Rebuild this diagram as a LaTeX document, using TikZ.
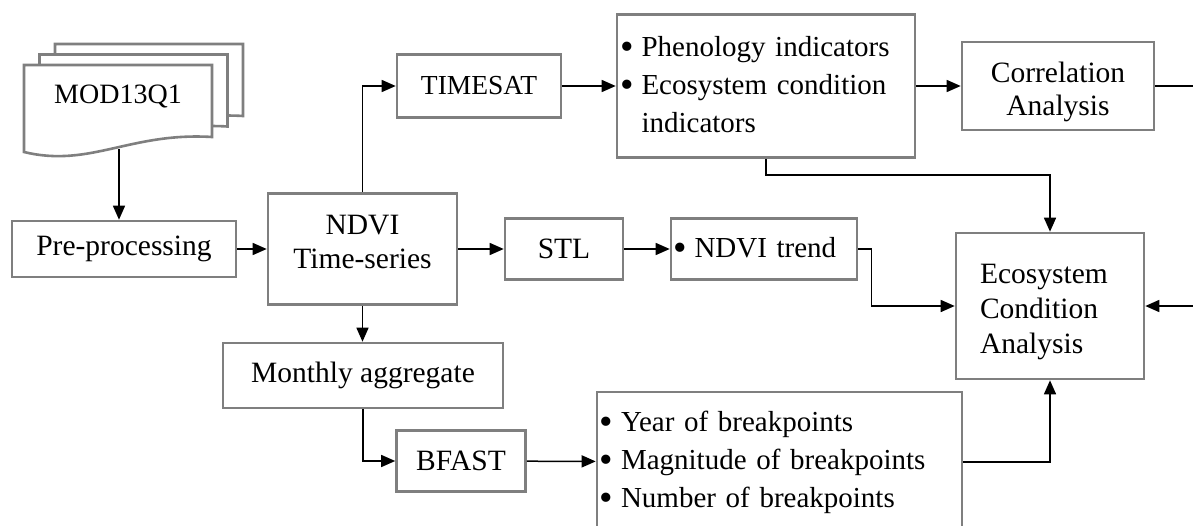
\documentclass[tikz,border=0pt]{standalone}
\usepackage{fontspec}
\setmainfont{Liberation Serif}
\usetikzlibrary{arrows.meta, positioning, calc}
\definecolor{boxgray}{HTML}{7F7F7F}
\newcommand{\itembul}{\raisebox{-3pt}{\scalebox{1.33}{\textbullet}}\hspace{8pt}}

\begin{document}
\begin{tikzpicture}[x=1pt, y=-1pt,
    box/.style={draw=boxgray, line width=2.6pt, fill=white, inner sep=0pt, font=\fontsize{29.5}{34}\selectfont, align=center},
    listbox/.style={box, font=\fontsize{29}{38}\selectfont, align=left},
    arrow/.style={-{Triangle[length=14pt, width=12pt]}, line width=1.5pt},
    link/.style={line width=1.5pt},
]
\useasboundingbox (0,0) rectangle (1193,525);

% Input data
\foreach \dx/\dy in {31/-21, 15.5/-10.5, 0/0}
  \draw[draw=boxgray, line width=2.6pt, fill=white, shift={(\dx,\dy)}] (24,65) -- (212,65) -- (212,137) .. controls (130,132) and (90,168) .. (24,152) -- cycle;
\node[font=\fontsize{28}{34}\selectfont] (mod) at (118,96) {MOD13Q1};
\coordinate (modbot) at (119,149);

% Main chain
\node[box, minimum width=224pt, minimum height=56pt] (pre) at (124,249) {Pre-processing};
\node[box, minimum width=189pt, minimum height=111pt] (ndvi) at (362.5,249) {NDVI\\Time-series\rule[-15pt]{0pt}{1pt}};
\node[box, minimum width=118pt, minimum height=61pt] (stl) at (564,249) {STL};
\node[listbox, minimum width=186pt, minimum height=61pt, text width=182pt] (trend) at (764,249) {\itembul NDVI trend};

% Phenology branch
\node[box, font=\fontsize{27.5}{30}\selectfont, minimum width=164pt, minimum height=63pt] (timesat) at (479,86) {TIMESAT};
\node[listbox, minimum width=298pt, minimum height=143pt, text width=292pt] (pheno) at (766,86) {\itembul Phenology indicators\\\itembul Ecosystem condition\\\phantom{\itembul}indicators};
\node[box, font=\fontsize{29.5}{33}\selectfont, minimum width=192pt, minimum height=88pt] (corr) at (1058,86) {\rule{0pt}{33pt}Correlation\\Analysis};

% Breakpoint branch
\node[box, minimum width=280pt, minimum height=65pt] (month) at (363,375.5) {Monthly aggregate};
\node[box, minimum width=129pt, minimum height=61pt] (bfast) at (461,461) {BFAST};
\node[listbox, minimum width=365pt, minimum height=140pt, text width=360pt] (brk) at (779.5,462) {\itembul Year of breakpoints\\\itembul Magnitude of breakpoints\\\itembul Number of breakpoints};

% Output
\node[box, font=\fontsize{29.5}{35}\selectfont, minimum width=188pt, minimum height=146pt, text width=140pt, align=left] (eca) at (1050,306) {\rule{0pt}{31pt}Ecosystem\\Condition\\Analysis};
\coordinate (corrout) at (1193,86);
\coordinate (ecain) at (1193,306);

% Arrows
\draw[arrow] (modbot) -- (modbot |- pre.north);
\draw[arrow] (pre) -- (ndvi);
\draw[arrow] (ndvi.north) |- (timesat.west);
\draw[arrow] (timesat) -- (pheno);
\draw[arrow] (pheno) -- (corr);
\draw[link] (corr.east) -- (corrout);
\draw[arrow] (pheno.south) -- ++(0,16) -| (eca.north);
\draw[arrow] (ndvi.east |- stl) -- (stl);
\draw[arrow] (stl) -- (trend);
\draw[arrow] (trend.east) -- ++(13,0) |- (eca.west);
\draw[arrow] (ecain) -- (eca.east);
\draw[arrow] (ndvi.south) -- (ndvi.south |- month.north);
\draw[arrow] (month.south) |- (bfast.west);
\draw[arrow] (bfast) -- (brk);
\draw[arrow] (brk.east) -| (eca.south);

\end{tikzpicture}
\end{document}
